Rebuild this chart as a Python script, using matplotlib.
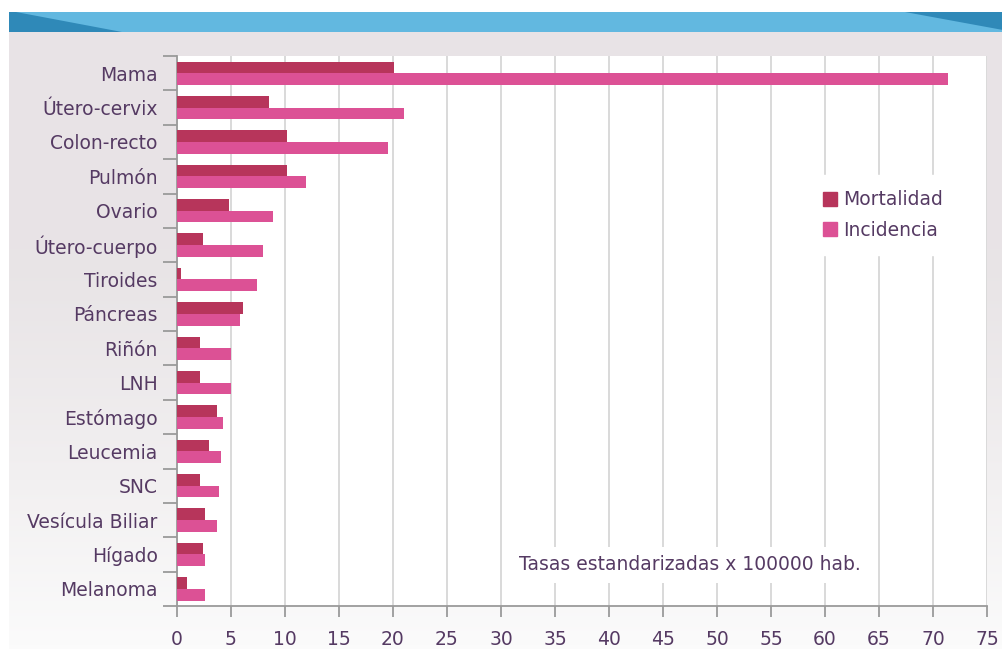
import numpy as np
import matplotlib
matplotlib.use("Agg")
import matplotlib.pyplot as plt
from matplotlib.patches import Polygon, Rectangle
from matplotlib.lines import Line2D

sitios = ["Mama", "Útero-cervix", "Colon-recto", "Pulmón", "Ovario", "Útero-cuerpo",
          "Tiroides", "Páncreas", "Riñón", "LNH", "Estómago", "Leucemia", "SNC",
          "Vesícula Biliar", "Hígado", "Melanoma"]
mortalidad = [20.1, 8.5, 10.2, 10.2, 4.8, 2.4, 0.4, 6.1, 2.1, 2.1, 3.7, 3.0, 2.1, 2.6, 2.4, 0.9]
incidencia = [71.4, 21.0, 19.5, 11.9, 8.9, 8.0, 7.4, 5.8, 5.0, 5.0, 4.3, 4.1, 3.9, 3.7, 2.6, 2.6]
x_ticks = list(range(0, 80, 5))

C_MORT = "#b7355b"
C_INC = "#dc5195"
C_TXT = "#553a63"
C_GRID = "#d3d3d3"
C_AXIS = "#9a9a9a"

plt.rcParams["font.family"] = ["DejaVu Sans"]

W, H = 1003, 649
fig = plt.figure(figsize=(W / 100, H / 100), dpi=100, facecolor="white")

# background panel with soft vertical gradient + blue banner
bg = fig.add_axes([0, 0, 1, 1], zorder=-10)
bg.set_xlim(0, W)
bg.set_ylim(H, 0)
bg.axis("off")
grad = np.linspace(0, 1, 256).reshape(-1, 1)
top_c = np.array([0.910, 0.894, 0.902])
bot_c = np.array([0.985, 0.985, 0.985])
img = top_c + (bot_c - top_c) * np.clip((grad - 0.35) / 0.65, 0, 1) ** 1.2
bg.imshow(img.reshape(256, 1, 3), extent=[9, W, H, 32], aspect="auto", zorder=0)
bg.add_patch(Rectangle((9, 12), W - 9, 20, color="#62b8e0", lw=0, zorder=1))
bg.add_patch(Polygon([(9, 12), (16, 12), (122, 32), (9, 32)], closed=True,
                     color="#2f89b8", lw=0, zorder=2))
bg.add_patch(Polygon([(905, 12), (W, 12), (W, 30)], closed=True,
                     color="#2f89b8", lw=0, zorder=2))

ax = fig.add_axes([177 / W, 1 - 606 / H, 810 / W, 550 / H])
ax.set_facecolor("white")

n = len(sitios)
y = np.arange(n)[::-1]
h = 0.34
ax.barh(y + 0.17, mortalidad, height=h, color=C_MORT, zorder=3, label="Mortalidad")
ax.barh(y - 0.17, incidencia, height=h, color=C_INC, zorder=3, label="Incidencia")

ax.set_xlim(0, 75)
ax.set_ylim(-0.5, n - 0.5)

ax.set_xticks(x_ticks)
ax.set_xticklabels([str(v) for v in x_ticks])
ax.tick_params(axis="x", length=8, width=1.3, color=C_AXIS, pad=9,
               labelsize=13.5, labelcolor=C_TXT)
ax.grid(axis="x", color=C_GRID, lw=1.2, zorder=0)

ax.set_yticks(y)
ax.set_yticklabels(sitios)
ax.tick_params(axis="y", which="major", length=0, pad=14, labelsize=13.5,
               labelcolor=C_TXT)
ax.set_yticks(np.arange(-0.5, n, 1.0), minor=True)
ax.tick_params(axis="y", which="minor", length=10, width=1.3, color=C_AXIS)

for s in ["top", "right"]:
    ax.spines[s].set_visible(False)
ax.spines["left"].set_color(C_AXIS)
ax.spines["bottom"].set_color(C_AXIS)
ax.spines["left"].set_linewidth(1.3)
ax.spines["bottom"].set_linewidth(1.3)

handles = [Line2D([], [], marker="s", ls="", color=C_MORT, markersize=10),
           Line2D([], [], marker="s", ls="", color=C_INC, markersize=10)]
leg = ax.legend(handles, ["Mortalidad", "Incidencia"], loc="upper left",
                bbox_to_anchor=(0.767, 0.80), frameon=True, fancybox=False,
                facecolor="white", edgecolor="white", framealpha=1,
                fontsize=13.5, handlelength=0.8, handletextpad=0.3,
                labelspacing=0.6, borderpad=0.8)
for t in leg.get_texts():
    t.set_color(C_TXT)
leg.set_zorder(5)

ax.text(47.5, 0.075, "Tasas estandarizadas x 100000 hab.", transform=ax.get_xaxis_transform(),
        ha="center", va="center", fontsize=13.5, color=C_TXT, zorder=5,
        bbox=dict(facecolor="white", edgecolor="none", pad=6))

fig.savefig("out.png", dpi=100, facecolor=fig.get_facecolor())
